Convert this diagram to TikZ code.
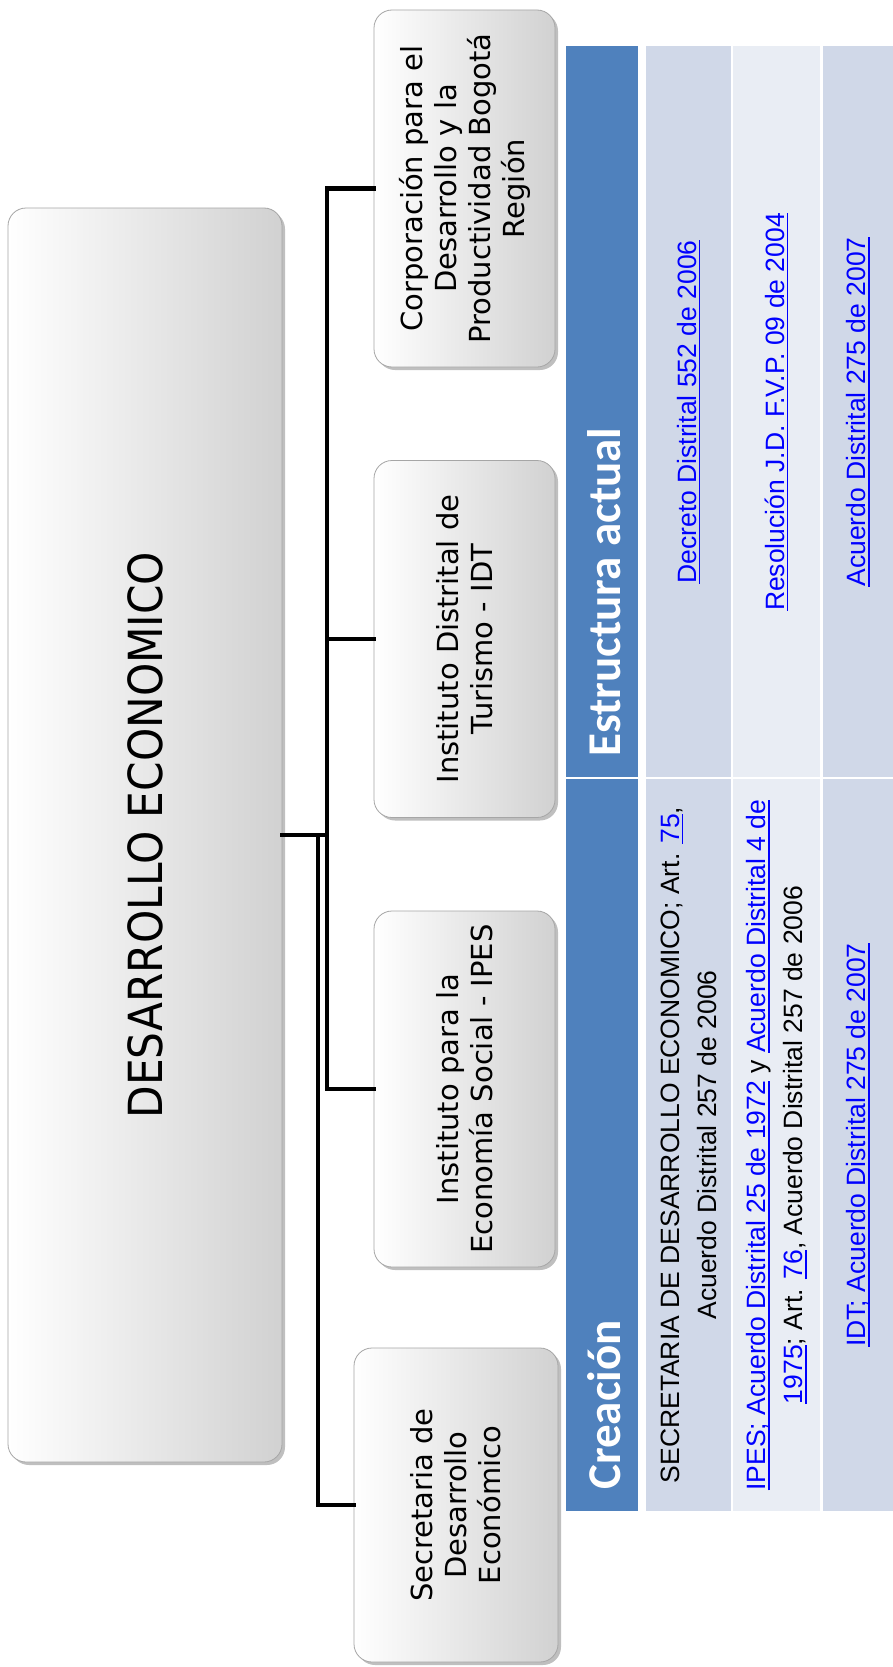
\documentclass[tikz,border=0pt]{standalone}
\usepackage{fontspec}
\setmainfont{Liberation Sans}
\newfontfamily\boxfont{DejaVu Sans}
\newfontfamily\titlefont[FakeStretch=0.9]{DejaVu Sans}
\newfontfamily\headfont{Carlito}
\usetikzlibrary{shadows}
\definecolor{hdrblue}{HTML}{4F81BD}
\definecolor{rowA}{HTML}{D0D8E8}
\definecolor{rowB}{HTML}{E9EDF4}
\definecolor{linkblue}{HTML}{0000FF}
\newsavebox{\lnkbox}
\newcommand{\lnk}[1]{{\color{linkblue}\sbox{\lnkbox}{#1}\rlap{\rule[-4pt]{\wd\lnkbox}{1.4pt}}\usebox{\lnkbox}}}
\begin{document}
\begin{tikzpicture}[x=1pt,y=-1pt,
  orgbox/.style={draw=black!35, line width=0.8pt, rounded corners=18pt,
    left color=white, middle color=black!4, right color=black!18,
    drop shadow={shadow xshift=3pt, shadow yshift=-3pt, fill=black!50, opacity=0.5},
    inner sep=0pt},
  boxlabel/.style={rotate=90, align=center, inner sep=0pt,
    font=\boxfont\fontsize{29}{34}\selectfont},
  conn/.style={line width=4.5pt, draw=black, line cap=rect, line join=miter},
  hdr/.style={rotate=90, inner sep=0pt, text=white,
    font=\headfont\bfseries\fontsize{47}{50}\selectfont},
  cell/.style={rotate=90, align=center, inner sep=0pt,
    font=\fontsize{26.5}{37}\selectfont}]
\useasboundingbox (0,0) rectangle (893,1667);
\fill[white] (0,0) rectangle (893,1667);

% org chart boxes
\node[orgbox, minimum width=274pt, minimum height=1254pt] (root) at (145,835) {};
\node[orgbox, minimum width=181pt, minimum height=357pt] (corp) at (464.5,188.5) {};
\node[orgbox, minimum width=181pt, minimum height=357pt] (idt) at (464.5,639) {};
\node[orgbox, minimum width=181pt, minimum height=356pt] (ipes) at (464.5,1089) {};
\node[orgbox, minimum width=204pt, minimum height=314pt] (sec) at (456,1505) {};

\node[rotate=90, inner sep=0pt, font=\titlefont\fontsize{47}{50}\selectfont] (rootT) at (root.center) {DESARROLLO ECONOMICO};
\node[boxlabel] (corpT) at (corp.center) {Corporación para el\\Desarrollo y la\\Productividad Bogotá\\Región};
\node[boxlabel] (idtT) at (idt.center) {Instituto Distrital de\\Turismo - IDT};
\node[boxlabel] (ipesT) at (ipes.center) {Instituto para la\\Economía Social - IPES};
\node[boxlabel] (secT) at (sec.center) {Secretaria de\\Desarrollo\\Económico};

% connectors
\coordinate (j) at (327,835);
\coordinate (k) at (318,835);
\draw[conn] (root.east) -- (j);
\draw[conn] (j) |- (corp.west);
\draw[conn] (j) |- (idt.west);
\draw[conn] (j) |- (ipes.west);
\draw[conn] (k) |- (sec.west);

% table
\fill[hdrblue] (566,46) rectangle (638,777);
\fill[hdrblue] (566,779) rectangle (638,1511);
\fill[rowA] (646,46) rectangle (731,777);
\fill[rowA] (646,779) rectangle (731,1511);
\fill[rowB] (733,46) rectangle (820,777);
\fill[rowB] (733,779) rectangle (820,1511);
\fill[rowA] (823,46) rectangle (893,777);
\fill[rowA] (823,779) rectangle (893,1511);

\node[hdr, anchor=base west] (hEst) at (620,757) {Estructura actual};
\node[hdr, anchor=base west] (hCre) at (620,1490) {Creación};

\node[cell] (c1) at (688.5,1145) {SECRETARIA DE DESARROLLO ECONOMICO; Art. \lnk{75},\\Acuerdo Distrital 257 de 2006};
\node[cell] (c2) at (776.5,1145) {\lnk{IPES; Acuerdo Distrital 25 de 1972} y \lnk{Acuerdo Distrital 4 de}\\\lnk{1975}; Art. \lnk{76}, Acuerdo Distrital 257 de 2006};
\node[cell] (c3) at (858,1145) {\lnk{IDT; Acuerdo Distrital 275 de 2007}};
\node[cell] (e1) at (688.5,412) {\lnk{Decreto Distrital 552 de 2006}};
\node[cell] (e2) at (776.5,412) {\lnk{Resolución J.D. F.V.P. 09 de 2004}};
\node[cell] (e3) at (858,412) {\lnk{Acuerdo Distrital 275 de 2007}};
\end{tikzpicture}
\end{document}
